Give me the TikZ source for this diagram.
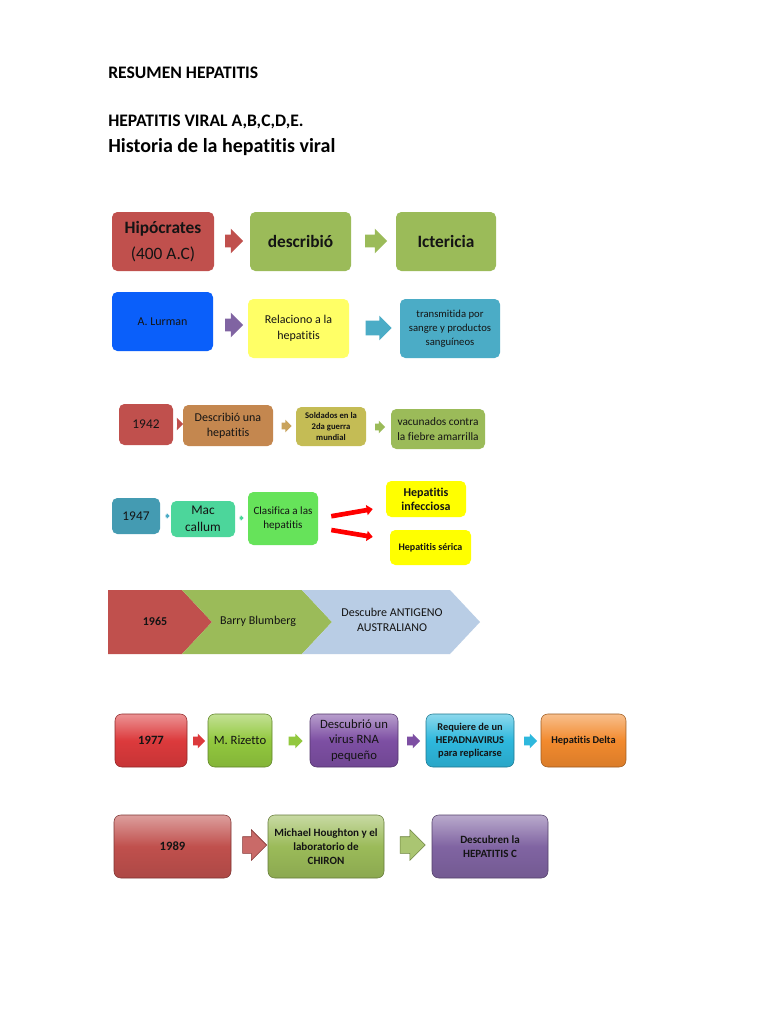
\documentclass[tikz,border=0pt]{standalone}
\usepackage{fontspec}
\setmainfont{Carlito}[Ligatures=NoCommon]
\usetikzlibrary{arrows.meta,positioning,shapes.arrows}

\definecolor{hred}{HTML}{C0504D}
\definecolor{hgreen}{HTML}{9BBB59}
\definecolor{hblue}{HTML}{0A5FFA}
\definecolor{hpurple}{HTML}{8064A2}
\definecolor{hpale}{HTML}{FFFF66}
\definecolor{hteal}{HTML}{4BACC6}
\definecolor{hbrown}{HTML}{C4874F}
\definecolor{htan}{HTML}{C9A35C}
\definecolor{holive}{HTML}{C4BC55}
\definecolor{hsea}{HTML}{4CD69B}
\definecolor{hlime}{HTML}{66E35A}
\definecolor{hyellow}{HTML}{FFFF00}
\definecolor{hsky}{HTML}{B9CDE5}
\definecolor{hred2}{HTML}{DC3A3C}
\definecolor{hlime2}{HTML}{92C83E}
\definecolor{hpurple2}{HTML}{7D4FA3}
\definecolor{hcyan}{HTML}{2EB8DD}
\definecolor{horange}{HTML}{F28A2E}
\definecolor{txtdark}{HTML}{141414}

\begin{document}
\begin{tikzpicture}[
  x=0.75pt, y=-0.75pt,
  heading/.style={anchor=base west, font=\bfseries\fontsize{13.2}{15}\selectfont, inner sep=0pt},
  box/.style={rectangle, rounded corners=4pt, align=center, text=txtdark, inner sep=1pt},
  sz/.style 2 args={minimum width=#1*0.75pt, minimum height=#2*0.75pt},
  glossy/.style={box, rounded corners=5pt, draw=#1!65!black, top color=#1!55!white, bottom color=#1!90!black, middle color=#1},
  blk/.style n args={4}{single arrow, fill=#4, draw=none, inner xsep=0pt, inner ysep=#2*0.375pt,
    single arrow head extend=(#3-#2)*0.375pt, minimum height=#1*0.75pt},
  redarr/.style={-{Triangle[length=4.5pt,width=7.5pt]}, line width=3.5pt, draw=red}
]
\fill[white] (0,0) rectangle (768,1024);

% headings
\node[heading] (resumen) at (108,79) {RESUMEN HEPATITIS};
\node[heading] (viral) at (108,127) {HEPATITIS VIRAL A,B,C,D,E.};
\node[heading, font=\bfseries\fontsize{15}{17}\selectfont] (historia) at (108,152) {Historia de la hepatitis viral};

% Hipocrates row
\node[box, sz={102}{59}, fill=hred, font=\fontsize{13}{19}\selectfont] (hipo) at (163,241.5) {\textbf{Hipócrates}\\(400 A.C)};
\node[box, sz={101}{59}, fill=hgreen, font=\bfseries\fontsize{13}{16}\selectfont] (describio) at (300.5,241.5) {describió};
\node[box, sz={100}{59}, fill=hgreen, font=\bfseries\fontsize{13}{16}\selectfont] (icter) at (446,241.5) {Ictericia};
\node[blk={18}{12}{24}{hred}] (a11) at (231,241) {};
\node[blk={22}{12}{24}{hgreen}] (a12) at (373,241) {};

% Lurman row
\node[box, sz={101}{59}, fill=hblue, font=\fontsize{9}{11}\selectfont] (lurman) at (162.5,321.5) {A. Lurman};
\node[box, sz={101}{59}, fill=hpale, font=\fontsize{9}{12}\selectfont] (relac) at (298.5,328.5) {Relaciono a la\\hepatitis};
\node[box, sz={100}{59}, fill=hteal, font=\fontsize{8}{10.5}\selectfont] (transm) at (450,328.5) {transmitida por\\sangre y productos\\sanguíneos};
\node[blk={18}{12}{24}{hpurple}] (a21) at (231,325) {};
\node[blk={26}{14}{24}{hteal}] (a22) at (375,328) {};

% 1942 row
\node[box, sz={54}{41}, fill=hred, font=\fontsize{10}{12}\selectfont] (y1942) at (146,424.5) {1942};
\node[box, sz={90}{41}, fill=hbrown, font=\fontsize{9}{11.5}\selectfont] (descuna) at (228,425.5) {Describió una\\hepatitis};
\node[box, sz={70}{39}, fill=holive, font=\bfseries\fontsize{6.5}{8.5}\selectfont] (soldados) at (331,426.5) {Soldados en la\\2da guerra\\mundial};
\node[box, sz={94}{40}, fill=hgreen, font=\fontsize{8.5}{11}\selectfont] (vacun) at (438,429) {vacunados contra\\la fiebre amarrilla};
\node[blk={6}{6}{12}{hred}] (a31) at (178.5,424) {};
\node[blk={10}{6}{12}{htan}] (a32) at (285,426) {};
\node[blk={10}{6}{12}{hgreen}] (a33) at (378.5,427) {};

% 1947 row
\node[box, sz={48}{36}, fill=hteal!90!black, font=\fontsize{10}{12}\selectfont] (y1947) at (136,516) {1947};
\node[box, sz={64}{36}, fill=hsea, font=\fontsize{10}{13}\selectfont] (mac) at (203,519) {Mac\\callum};
\node[box, sz={70}{53}, fill=hlime, font=\fontsize{8.3}{11}\selectfont] (clasif) at (283,518.5) {Clasifica a las\\hepatitis};
\node[box, sz={80}{36}, fill=hyellow, font=\bfseries\fontsize{9}{10.5}\selectfont] (infec) at (426,499) {Hepatitis\\infecciosa};
\node[box, sz={81}{35}, fill=hyellow, font=\bfseries\fontsize{7.5}{9}\selectfont] (serica) at (430.5,547.5) {Hepatitis sérica};
\node[blk={4}{2}{5}{hteal}] (a41) at (167,516) {};
\node[blk={4}{2}{5}{hsea}] (a42) at (241,518) {};
\draw[redarr, shorten <=9.9pt, shorten >=9.9pt] (clasif.east) -- ([yshift=-5.85pt]infec.west);
\draw[redarr, shorten <=9.9pt, shorten >=12.9pt] ([yshift=-7pt]clasif.east) -- ([yshift=5.8pt]serica.west);

% 1965 row
\fill[hred] (108,590) -- (182,590) -- (212,622) -- (182,654) -- (108,654) -- cycle;
\fill[hgreen] (182,590) -- (302,590) -- (332,622) -- (302,654) -- (182,654) -- (212,622) -- cycle;
\fill[hsky] (302,590) -- (450,590) -- (480,622) -- (450,654) -- (302,654) -- (332,622) -- cycle;
\node[box, font=\bfseries\fontsize{9}{11}\selectfont] (y1965) at (155,621) {1965};
\node[box, font=\fontsize{9}{11}\selectfont] (barry) at (258,621) {Barry Blumberg};
\node[box, font=\fontsize{9}{11}\selectfont] (antigeno) at (392,620) {Descubre ANTIGENO\\AUSTRALIANO};

% 1977 row
\node[glossy=hred2, sz={72}{53}, font=\bfseries\fontsize{9.5}{11}\selectfont] (y1977) at (151,740.5) {1977};
\node[glossy=hlime2, sz={64}{53}, font=\fontsize{9.5}{11}\selectfont] (rizetto) at (240,740.5) {M. Rizetto};
\node[glossy=hpurple2, sz={88}{53}, font=\fontsize{9.5}{11.5}\selectfont] (virus) at (354,740.5) {Descubrió un\\virus RNA\\pequeño};
\node[glossy=hcyan, sz={88}{53}, font=\bfseries\fontsize{7.8}{10}\selectfont] (requiere) at (470,740.5) {Requiere de un\\HEPADNAVIRUS\\para replicarse};
\node[glossy=horange, sz={85}{53}, font=\bfseries\fontsize{7.8}{10}\selectfont] (delta) at (583.5,740.5) {Hepatitis Delta};
\node[blk={12}{8}{14}{hred2}] (a61) at (197,741) {};
\node[blk={14}{8}{14}{hlime2}] (a62) at (293.5,741) {};
\node[blk={13}{8}{14}{hpurple2}] (a63) at (411.5,741) {};
\node[blk={13}{8}{14}{hcyan}] (a64) at (528.5,741) {};

% 1989 row
\node[glossy=hred, sz={117}{63}, font=\bfseries\fontsize{9.5}{11}\selectfont] (y1989) at (172.5,846.5) {1989};
\node[glossy=hgreen, sz={116}{63}, font=\bfseries\fontsize{8.3}{10.5}\selectfont] (houghton) at (326,846.5) {Michael Houghton y el\\laboratorio de\\CHIRON};
\node[glossy=hpurple, sz={116}{63}, font=\bfseries\fontsize{8.3}{10.5}\selectfont] (hepc) at (490,846.5) {Descubren la\\HEPATITIS C};
\node[blk={24}{16}{30}{hred!85!white}, draw=hred!70!black] (a71) at (250.5,845) {};
\node[blk={25}{16}{30}{hgreen!85!white}, draw=hgreen!70!black] (a72) at (408.5,845) {};
\end{tikzpicture}
\end{document}
